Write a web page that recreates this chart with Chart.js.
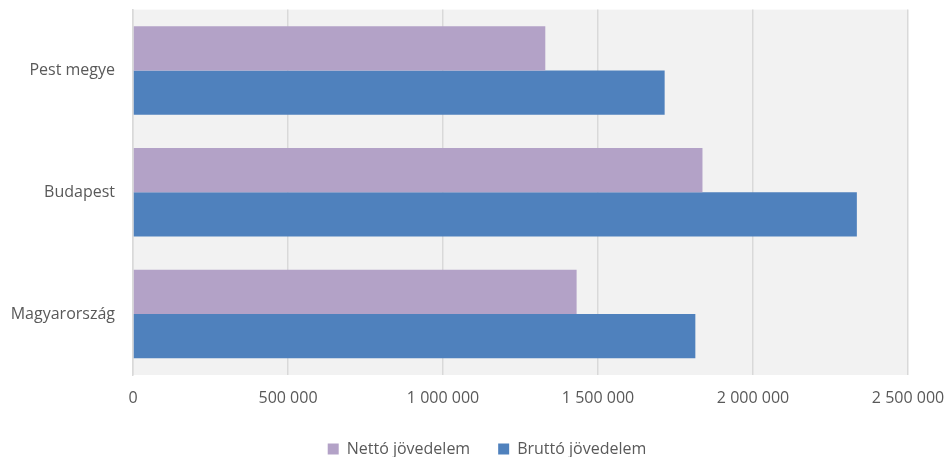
<!DOCTYPE html>
<html>
<head>
<meta charset="utf-8">
<script src="https://cdn.jsdelivr.net/npm/chart.js@4/dist/chart.umd.min.js"></script>
<style>
  html, body { margin: 0; padding: 0; background: #fff; overflow: hidden; }
  #wrap { width: 947px; height: 467px; }
</style>
</head>
<body>
<div id="wrap"><canvas id="c"></canvas></div>
<script>
const regions = ['Pest megye', 'Budapest', 'Magyarország'];
const netto   = [1330000, 1837000, 1431000];
const brutto  = [1715000, 2335000, 1814000];
const xTicks  = [0, 500000, 1000000, 1500000, 2000000, 2500000];

const fmt = v => String(v).replace(/\B(?=(\d{3})+(?!\d))/g, ' ');

// gray plot background
const plotBg = {
  id: 'plotBg',
  beforeDraw(chart) {
    const { ctx, chartArea: a } = chart;
    ctx.save();
    ctx.fillStyle = '#f2f2f2';
    ctx.fillRect(a.left, a.top, a.right - a.left, a.bottom - a.top);
    ctx.restore();
  }
};

// nudge legend box so it centres like the original
const legendShift = {
  id: 'legendShift',
  afterLayout(chart) {
    if (chart.legend) chart.legend.left += 66;
  }
};

new Chart(document.getElementById('c'), {
  type: 'bar',
  data: {
    labels: regions,
    datasets: [
      { label: 'Nettó jövedelem', data: netto, backgroundColor: '#b3a2c7' },
      { label: 'Bruttó jövedelem', data: brutto, backgroundColor: '#4f81bd' }
    ]
  },
  options: {
    indexAxis: 'y',
    responsive: true,
    maintainAspectRatio: false,
    animation: false,
    layout: { padding: { top: 0, right: 39, left: 0, bottom: 0 } },
    datasets: { bar: { categoryPercentage: 0.727, barPercentage: 1 } },
    scales: {
      x: {
        min: 0, max: 2500000,
        afterBuildTicks: s => { s.ticks = xTicks.map(v => ({ value: v })); },
        afterFit: s => { s.height = 38; },
        ticks: { color: '#595959', font: { family: 'Open Sans', size: 16 }, padding: 0,
                 callback: v => fmt(v) },
        grid: { color: '#d9d9d9', lineWidth: 1.5, drawTicks: true,
                tickColor: 'rgba(0,0,0,0)', tickLength: 14 },
        border: { display: false }
      },
      y: {
        afterFit: s => { s.width = 133; },
        ticks: { color: '#595959', font: { family: 'Open Sans', size: 16 }, padding: 0 },
        grid: { display: false, drawTicks: true, tickLength: 18 },
        border: { color: '#d9d9d9', width: 1.5 }
      }
    },
    plugins: {
      legend: {
        position: 'bottom',
        labels: { color: '#595959', font: { family: 'Open Sans', size: 16 },
                  boxWidth: 11, boxHeight: 11, padding: 28 }
      },
      tooltip: { enabled: false }
    }
  },
  plugins: [plotBg, legendShift]
});
</script>
</body>
</html>
